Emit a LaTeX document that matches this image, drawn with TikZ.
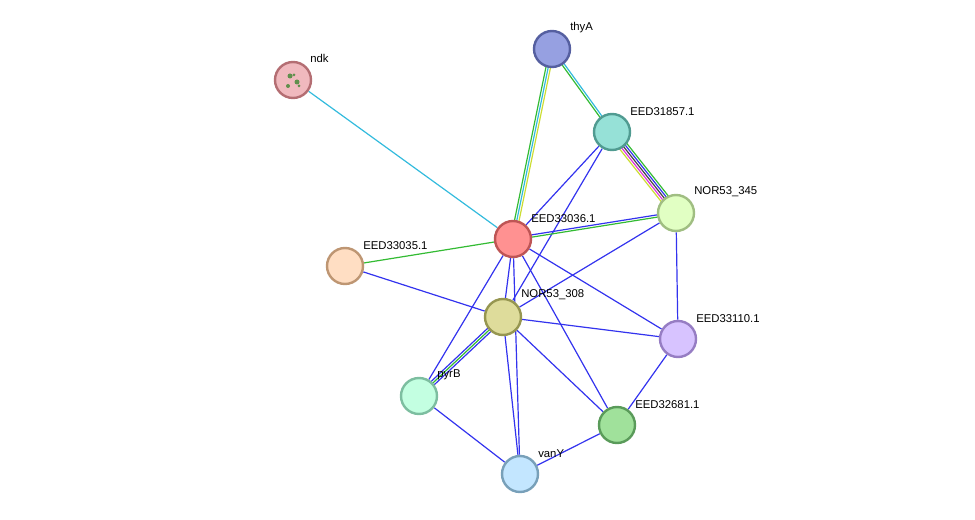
\documentclass[tikz,border=0pt]{standalone}
\usepackage{fontspec}
\setmainfont{Liberation Sans}
\usetikzlibrary{positioning,calc}

% parallel connector: style, from, to, offset
\newcommand\pedge[4]{\path [#1] ($(#2)!#4!90:(#3)$) -- ($(#3)!#4!-90:(#2)$);}

\begin{document}
\begin{tikzpicture}[x=0.75pt,y=-0.75pt]
\tikzstyle{prot} = [circle, minimum size=28.5pt, inner sep=0pt]
\tikzstyle{lbl} = [font=\fontsize{8.5}{10}\selectfont, inner sep=0pt, anchor=south west]
\tikzstyle{edge} = [draw, line width=0.9pt]
\tikzstyle{bl} = [edge, color={rgb,255:red,51;green,51;blue,238}]
\tikzstyle{gr} = [edge, color={rgb,255:red,51;green,187;blue,51}]
\tikzstyle{cy} = [edge, color={rgb,255:red,51;green,187;blue,221}]
\tikzstyle{ye} = [edge, color={rgb,255:red,204;green,221;blue,51}]
\tikzstyle{ma} = [edge, color={rgb,255:red,221;green,51;blue,221}]
\tikzstyle{dk} = [edge, color={rgb,255:red,68;green,68;blue,68}]
\useasboundingbox (0,0) rectangle (975,520);

% proteins
\node [prot] (ndk) at (293,80) {};
\node [prot] (thyA) at (552,49) {};
\node [prot] (e31857) at (612,132) {};
\node [prot] (n345) at (676,213) {};
\node [prot] (e33036) at (513,239) {};
\node [prot] (e33035) at (345,266) {};
\node [prot] (n308) at (503,317) {};
\node [prot] (e33110) at (678,339) {};
\node [prot] (pyrB) at (419,396) {};
\node [prot] (e32681) at (617,425) {};
\node [prot] (vanY) at (520,474) {};

% connectors
\path [cy] (ndk) -- (e33036);
\pedge{gr}{thyA}{e33036}{-1.7pt}
\pedge{cy}{thyA}{e33036}{0pt}
\pedge{ye}{thyA}{e33036}{1.7pt}
\pedge{gr}{thyA}{e31857}{-0.85pt}
\pedge{cy}{thyA}{e31857}{0.85pt}
\pedge{ye}{e31857}{n345}{-3.4pt}
\pedge{ma}{e31857}{n345}{-1.7pt}
\pedge{dk}{e31857}{n345}{0pt}
\pedge{bl}{e31857}{n345}{1.7pt}
\pedge{gr}{e31857}{n345}{3.4pt}
\path [bl] (e31857) -- (e33036);
\path [bl] (e31857) -- (n308);
\pedge{gr}{n345}{e33036}{0.85pt}
\pedge{bl}{n345}{e33036}{-0.85pt}
\path [bl] (n345) -- (n308);
\path [bl] (n345) -- (e33110);
\path [gr] (e33036) -- (e33035);
\path [bl] (e33035) -- (n308);
\path [bl] (e33036) -- (n308);
\path [bl] (e33036) -- (vanY);
\path [bl] (e33036) -- (e33110);
\path [bl] (e33036) -- (e32681);
\path [bl] (e33036) -- (pyrB);
\path [bl] (n308) -- (e33110);
\pedge{bl}{n308}{pyrB}{-1.7pt}
\pedge{gr}{n308}{pyrB}{0pt}
\pedge{bl}{n308}{pyrB}{1.7pt}
\path [bl] (n308) -- (vanY);
\path [bl] (n308) -- (e32681);
\path [bl] (pyrB) -- (vanY);
\path [bl] (vanY) -- (e32681);
\path [bl] (e33110) -- (e32681);

% protein discs above the connectors
\foreach \n/\c/\f in {ndk/{180,110,115}/{240,185,190}, thyA/{85,95,160}/{150,160,225},
  e31857/{80,155,145}/{150,225,215}, n345/{160,190,130}/{225,255,195},
  e33036/{190,85,85}/{255,145,145}, e33035/{190,150,115}/{255,222,195},
  n308/{150,150,80}/{222,220,155}, e33110/{150,125,195}/{215,195,255},
  pyrB/{125,190,160}/{195,255,225}, e32681/{90,155,90}/{160,225,155},
  vanY/{120,160,185}/{195,230,255}}
{
  \definecolor{dc}{RGB}{\c}\definecolor{fc}{RGB}{\f}
  \draw [line width=1.8pt, draw=dc, fill=fc] (\n.center) circle (18);
}
\fill [green!45!black, opacity=0.6] (290,76) circle (2.5) (297,82) circle (2.5)
  (288,86) circle (2) (294,75) circle (1.5) (299,86) circle (1.5);

% labels
\node [lbl] at (310,63) {ndk};
\node [lbl] at (570,33) {thyA};
\node [lbl] at (630,116) {EED31857.1};
\node [lbl] at (694,197) {NOR53\_345};
\node [lbl] at (531,223) {EED33036.1};
\node [lbl] at (363,250) {EED33035.1};
\node [lbl] at (521,300) {NOR53\_308};
\node [lbl] at (696,323) {EED33110.1};
\node [lbl] at (437,380) {pyrB};
\node [lbl] at (635,409) {EED32681.1};
\node [lbl] at (538,458) {vanY};
\end{tikzpicture}
\end{document}
